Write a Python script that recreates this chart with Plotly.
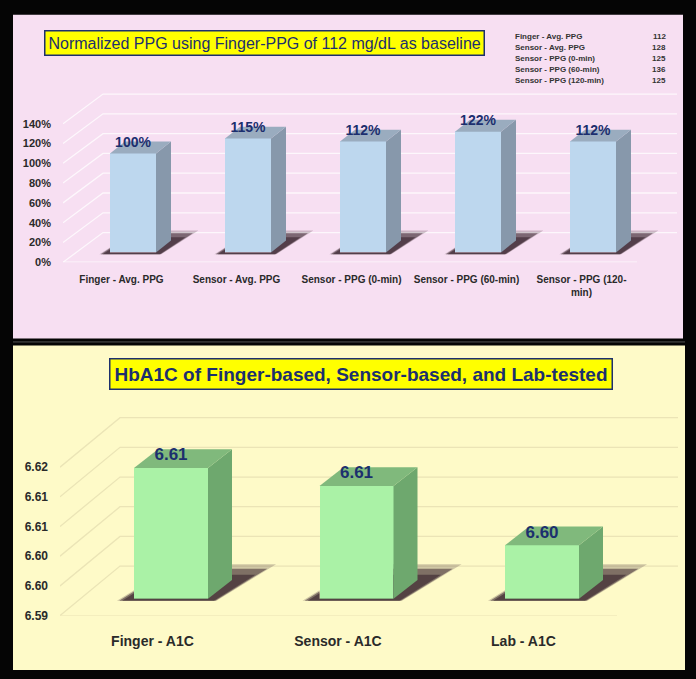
import plotly.graph_objects as go

W, H = 696, 679
FONT = "Liberation Sans Narrow, Liberation Sans, Arial, sans-serif"

# ---------------- data ----------------
ppg_categories = ["Finger - Avg. PPG", "Sensor - Avg. PPG", "Sensor - PPG (0-min)",
                  "Sensor - PPG (60-min)", "Sensor - PPG (120-<br>min)"]
ppg_values = [1.00, 1.15, 1.12, 1.22, 1.12]
ppg_ticks = [0.0, 0.2, 0.4, 0.6, 0.8, 1.0, 1.2, 1.4]
ppg_table_labels = ["Finger - Avg. PPG", "Sensor - Avg. PPG", "Sensor - PPG (0-min)",
                    "Sensor - PPG (60-min)", "Sensor - PPG (120-min)"]
ppg_table_values = [112, 128, 125, 136, 125]

a1c_categories = ["Finger - A1C", "Sensor - A1C", "Lab - A1C"]
a1c_values = [6.612, 6.609, 6.599]
a1c_ticks = [6.590, 6.595, 6.600, 6.605, 6.610, 6.615]
a1c_tick_labels = ["6.59", "6.60", "6.60", "6.61", "6.61", "6.62"]

title_top = "Normalized PPG using Finger-PPG of 112 mg/dL as baseline"
title_bottom = "HbA1C of Finger-based, Sensor-based, and Lab-tested"

# ---------------- styling / geometry (pixels) ----------------
PINK = "#f7dff2"
YELLOW = "#fefac8"
NAVY = "#1c2f6e"
LABEL_COLOR = "#2a2a2a"

panels = [
    dict(xa="x", ya="y", xk="xaxis", yk="yaxis",
         cats=ppg_categories, vals=ppg_values, ticks=ppg_ticks, ticktext=None, tickformat=".0%",
         x_px=(63, 683), y_px=(265, 80), c0=133, step=115, ymin=0.0, ppu=100.0,
         lift=10, wall=(40, 30), back_right=677, floor_right=637,
         bar_w=46, depth=(15, 12), label_up=10, fmt="{:.0%}",
         front="#bdd7ee", side="#8798ab", top="#9aacbf", grid="rgba(255,255,255,0.75)",
         tick_size=11, cat_size=10, val_size=14, cat_standoff=10, y_standoff=11),
    dict(xa="x2", ya="y2", xk="xaxis2", yk="yaxis2",
         cats=a1c_categories, vals=a1c_values, ticks=a1c_ticks, ticktext=a1c_tick_labels, tickformat=None,
         x_px=(60, 685), y_px=(622, 405), c0=171, step=185.5, ymin=6.59, ppu=6000.0,
         lift=17, wall=(60, 50), back_right=678, floor_right=617,
         bar_w=74, depth=(24, 19), label_up=12, fmt="{:.2f}",
         front="#aaf2a6", side="#6ea86e", top="#80b97c", grid="rgba(222,214,170,0.6)",
         tick_size=12, cat_size=14, val_size=17, cat_standoff=15, y_standoff=11),
]

fig = go.Figure()
shapes = []

# panel backgrounds
shapes.append(dict(type="rect", xref="paper", yref="paper", layer="below",
                   x0=13 / W, x1=683 / W, y0=1 - 342 / H, y1=1 - 15 / H,
                   fillcolor=PINK, line=dict(width=0)))
shapes.append(dict(type="rect", xref="paper", yref="paper", layer="below",
                   x0=13 / W, x1=685 / W, y0=1 - 677 / H, y1=1 - 349 / H,
                   fillcolor=YELLOW, line=dict(width=0)))
shapes.append(dict(type="line", xref="paper", yref="paper", layer="below",
                   x0=13 / W, x1=685 / W, y0=1 - 345.5 / H, y1=1 - 345.5 / H,
                   line=dict(color="#555555", width=1)))

layout_axes = {}
for p in panels:
    ux = lambda px, p=p: px / p["step"]
    uy = lambda px, p=p: px / p["ppu"]
    xr = [(p["x_px"][0] - p["c0"]) / p["step"], (p["x_px"][1] - p["c0"]) / p["step"]]
    yr = [p["ymin"], p["ymin"] + (p["y_px"][0] - p["y_px"][1]) / p["ppu"]]
    n = len(p["vals"])
    idx = list(range(n))
    base = p["ymin"] + uy(p["lift"])
    hw = ux(p["bar_w"]) / 2
    ddx, ddy = ux(p["depth"][0]), uy(p["depth"][1])
    wdx, wdy = ux(p["wall"][0]), uy(p["wall"][1])

    # back wall / side wall gridlines
    for t in p["ticks"]:
        path = (f"M {xr[0]},{t} L {xr[0] + wdx},{t + wdy} "
                f"L {(p['back_right'] - p['c0']) / p['step']},{t + wdy}")
        shapes.append(dict(type="path", xref=p["xa"], yref=p["ya"], layer="below",
                           path=path, line=dict(color=p["grid"], width=1.3)))
    # front floor edge
    shapes.append(dict(type="line", xref=p["xa"], yref=p["ya"], layer="below",
                       x0=xr[0], x1=(p["floor_right"] - p["c0"]) / p["step"],
                       y0=p["ymin"], y1=p["ymin"],
                       line=dict(color=p["grid"], width=1.3)))

    # shadows (outside of front face)
    for i in idx:
        xl, xrr = i - hw, i + hw
        a, c, d = ux(p["bar_w"] * 0.2), ux(p["bar_w"] * 0.1), ux(p["bar_w"] * 0.7)
        e, f = uy(2), uy(p["depth"][1] * 1.6)
        for scale, col in ((1.15, "rgba(70,50,60,0.25)"), (1.0, "rgba(60,40,50,0.55)"), (0.8, "rgba(50,30,40,0.55)")):
            aa, cc, dd, ff = a * scale, c * scale, d * scale, f * scale
            x1, y1 = xl - aa, base - e
            yl = y1 + (aa / dd) * (ff + e)
            xs = [x1, xrr + cc, xrr + cc + dd, xrr, xrr, xl, xl, x1]
            ys = [y1, y1, base + ff, base + ff, base, base, yl, y1]
            fig.add_trace(go.Scatter(x=xs, y=ys, mode="lines", fill="toself", fillcolor=col,
                                     line=dict(width=0), hoverinfo="skip", showlegend=False,
                                     xaxis=p["xa"], yaxis=p["ya"]))

    # front faces
    fig.add_trace(go.Bar(x=idx, y=[v - p["ymin"] for v in p["vals"]], base=base,
                         width=2 * hw, marker=dict(color=p["front"], line=dict(width=0)),
                         hoverinfo="skip", showlegend=False, xaxis=p["xa"], yaxis=p["ya"]))
    # side and top faces
    for i, v in zip(idx, p["vals"]):
        top = v + uy(p["lift"])
        xl, xrr = i - hw, i + hw
        fig.add_trace(go.Scatter(x=[xrr, xrr + ddx, xrr + ddx, xrr, xrr],
                                 y=[base, base + ddy, top + ddy, top, base],
                                 mode="lines", fill="toself", fillcolor=p["side"],
                                 line=dict(width=0), hoverinfo="skip", showlegend=False,
                                 xaxis=p["xa"], yaxis=p["ya"]))
        fig.add_trace(go.Scatter(x=[xl, xl + ddx, xrr + ddx, xrr, xl],
                                 y=[top, top + ddy, top + ddy, top, top],
                                 mode="lines", fill="toself", fillcolor=p["top"],
                                 line=dict(width=0), hoverinfo="skip", showlegend=False,
                                 xaxis=p["xa"], yaxis=p["ya"]))
    # value labels
    fig.add_trace(go.Scatter(x=idx, y=[v + uy(p["lift"]) + uy(p["label_up"]) for v in p["vals"]],
                             mode="text", text=[p["fmt"].format(v) for v in p["vals"]],
                             textposition="middle center",
                             textfont=dict(family=FONT, size=p["val_size"], color=NAVY, weight="bold"),
                             hoverinfo="skip", showlegend=False, xaxis=p["xa"], yaxis=p["ya"]))

    xdom = [p["x_px"][0] / W, p["x_px"][1] / W]
    ydom = [1 - p["y_px"][0] / H, 1 - p["y_px"][1] / H]
    layout_axes[p["xk"]] = dict(domain=xdom, range=xr, showgrid=False, zeroline=False, showline=False,
                                tickmode="array", tickvals=[i - 0.1 for i in idx], ticktext=p["cats"],
                                ticks="", ticklabelstandoff=p["cat_standoff"],
                                tickfont=dict(family=FONT, size=p["cat_size"], color=LABEL_COLOR, weight="bold"),
                                anchor=p["ya"], fixedrange=True)
    yax = dict(domain=ydom, range=yr, showgrid=False, zeroline=False, showline=False,
               tickmode="array", tickvals=p["ticks"], ticks="", ticklabelstandoff=p["y_standoff"],
               tickfont=dict(family=FONT, size=p["tick_size"], color=LABEL_COLOR, weight="bold"),
               anchor=p["xa"], fixedrange=True)
    if p["ticktext"] is not None:
        yax["ticktext"] = p["ticktext"]
    if p["tickformat"]:
        yax["tickformat"] = p["tickformat"]
    layout_axes[p["yk"]] = yax

annotations = [
    dict(xref="paper", yref="paper", x=264 / W, y=1 - 43 / H, xanchor="center", yanchor="middle",
         text=title_top, showarrow=False, bgcolor="#ffff00", bordercolor=NAVY, borderwidth=1.5,
         borderpad=3, font=dict(family=FONT, size=16, color=NAVY)),
    dict(xref="paper", yref="paper", x=361 / W, y=1 - 378 / H, xanchor="center", yanchor="middle",
         text=title_bottom, showarrow=False, bgcolor="#ffff00", bordercolor=NAVY, borderwidth=1.5,
         borderpad=4, font=dict(family=FONT, size=19, color=NAVY, weight="bold")),
]
row_y = [37, 48, 59, 70, 81]
for lab, val, ry in zip(ppg_table_labels, ppg_table_values, row_y):
    annotations.append(dict(xref="paper", yref="paper", x=513 / W, y=1 - ry / H, xanchor="left",
                            yanchor="middle", text=lab, showarrow=False,
                            font=dict(family=FONT, size=8, color="#333333", weight="bold")))
    annotations.append(dict(xref="paper", yref="paper", x=668 / W, y=1 - ry / H, xanchor="right",
                            yanchor="middle", text=str(val), showarrow=False,
                            font=dict(family=FONT, size=8, color="#333333", weight="bold")))

fig.update_layout(width=W, height=H, margin=dict(l=0, r=0, t=0, b=0),
                  paper_bgcolor="#050505", plot_bgcolor="rgba(0,0,0,0)",
                  showlegend=False, bargap=0, shapes=shapes, annotations=annotations,
                  font=dict(family=FONT), **layout_axes)

fig.write_html("out.html")
